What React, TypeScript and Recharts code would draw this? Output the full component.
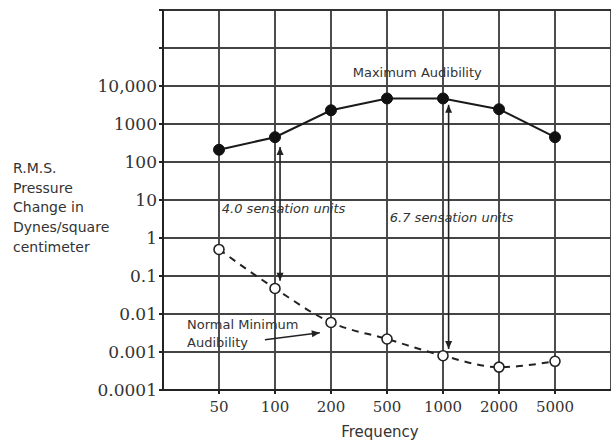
import {
  CartesianGrid,
  Label,
  Line,
  LineChart,
  ReferenceArea,
  ReferenceDot,
  ReferenceLine,
  XAxis,
  YAxis,
} from "recharts";

const frequencies = ["50", "100", "200", "500", "1000", "2000", "5000"];
const maxAudibility = [210, 450, 2300, 4700, 4700, 2450, 450];
const minAudibility = [0.5, 0.047, 0.006, 0.0022, 0.0008, 0.0004, 0.00057];
const yTicks = [0.0001, 0.001, 0.01, 0.1, 1, 10, 100, 1000, 10000, 100000, 1000000];
const yTickLabels = ["0.0001", "0.001", "0.01", "0.1", "1", "10", "100", "1000", "10,000", "", ""];
const yTitle = ["R.M.S.", "Pressure", "Change in", "Dynes/square", "centimeter"];

const data = frequencies.map((f, i) => ({
  pos: i + 1,
  freq: f,
  max: maxAudibility[i],
  min: minAudibility[i],
}));

const SANS = "'DejaVu Sans', sans-serif";
const SERIF = "'DejaVu Serif', serif";
const INK = "#333";

function head(x: number, y: number, dx: number, dy: number) {
  // triangle pointing along (dx, dy), tip at (x, y)
  const len = Math.hypot(dx, dy) || 1;
  const ux = dx / len;
  const uy = dy / len;
  const bx = x - ux * 8;
  const by = y - uy * 8;
  const px = -uy * 3.5;
  const py = ux * 3.5;
  return `${x},${y} ${bx + px},${by + py} ${bx - px},${by - py}`;
}

const DoubleArrow = (p: any) => {
  const { x1, y1, x2, y2 } = p;
  return (
    <g>
      <line x1={x1} y1={y1} x2={x2} y2={y2} stroke="#222" strokeWidth={1.6} />
      <polygon points={head(x1, y1, x1 - x2, y1 - y2)} fill="#222" />
      <polygon points={head(x2, y2, x2 - x1, y2 - y1)} fill="#222" />
    </g>
  );
};

const SingleArrow = (p: any) => {
  const { x1, y1, x2, y2 } = p;
  return (
    <g>
      <line x1={x1} y1={y1} x2={x2} y2={y2} stroke="#222" strokeWidth={1.6} />
      <polygon points={head(x2, y2, x2 - x1, y2 - y1)} fill="#222" />
    </g>
  );
};

// top edge of the plotting frame
const FrameTop = (p: any) => (
  <line x1={p.x} y1={p.y} x2={p.x + p.width} y2={p.y} stroke="#333" strokeWidth={2.2} />
);

const note =
  (lines: string[], opts: { anchor?: "start" | "middle"; italic?: boolean; lh?: number }) =>
  (p: any) => (
    <text
      x={p.cx}
      y={p.cy}
      textAnchor={opts.anchor ?? "start"}
      fontFamily={SANS}
      fontSize={13}
      fontStyle={opts.italic ? "italic" : "normal"}
      fill={INK}
    >
      {lines.map((l, i) => (
        <tspan key={l} x={p.cx} dy={i === 0 ? "0.36em" : opts.lh ?? 18}>
          {l}
        </tspan>
      ))}
    </text>
  );

const YTitle = (p: any) => {
  const y0 = p.viewBox.y + 163;
  return (
    <text x={13} y={y0} fontFamily={SANS} fontSize={14} fill={INK}>
      {yTitle.map((l, i) => (
        <tspan key={l} x={13} y={y0 + i * 19.7}>
          {l}
        </tspan>
      ))}
    </text>
  );
};

export default function App() {
  return (
    <div style={{ width: 611, height: 442, background: "#fff" }}>
      <style>{"body{margin:0}"}</style>
      <LineChart width={611} height={442} data={data} margin={{ top: 10, right: 0, bottom: 0, left: 0 }}>
        <CartesianGrid stroke="#444" strokeWidth={1.9} />
        <XAxis
          dataKey="pos"
          type="number"
          domain={[0, 8]}
          ticks={[1, 2, 3, 4, 5, 6, 7]}
          tickFormatter={(v) => frequencies[v - 1] ?? ""}
          height={52}
          tickSize={4}
          tickMargin={7}
          stroke="#222"
          strokeWidth={2}
          tick={{ fontFamily: SERIF, fontSize: 15, fill: INK }}
          allowDataOverflow
        >
          <Label value="Frequency" position="insideBottom" offset={5} dx={-7} fontFamily={SANS} fontSize={15} fill={INK} />
        </XAxis>
        <YAxis
          type="number"
          scale="log"
          domain={[0.0001, 1000000]}
          ticks={yTicks}
          tickFormatter={(v) => yTickLabels[yTicks.indexOf(v)] ?? ""}
          width={163}
          tickSize={4}
          tickMargin={2}
          stroke="#222"
          strokeWidth={2}
          tick={{ fontFamily: SERIF, fontSize: 17, fill: INK }}
          allowDataOverflow
          interval={0}
        >
          <Label content={<YTitle />} />
        </YAxis>

        <ReferenceArea x1={0} x2={8} y1={0.0001} y2={1000000} ifOverflow="visible" shape={FrameTop} />

        <ReferenceLine segment={[{ x: 2.09, y: 250 }, { x: 2.09, y: 0.075 }]} shape={DoubleArrow} />
        <ReferenceLine segment={[{ x: 5.1, y: 3200 }, { x: 5.1, y: 0.0012 }]} shape={DoubleArrow} />
        <ReferenceLine segment={[{ x: 1.82, y: 0.0021 }, { x: 2.8, y: 0.0032 }]} shape={SingleArrow} />

        <ReferenceDot x={4.54} y={23400} shape={note(["Maximum Audibility"], { anchor: "middle" })} />
        <ReferenceDot x={1.05} y={6.2} shape={note(["4.0 sensation units"], { italic: true })} />
        <ReferenceDot x={4.05} y={3.6} shape={note(["6.7 sensation units"], { italic: true })} />
        <ReferenceDot x={0.43} y={0.0055} shape={note(["Normal Minimum", "Audibility"], {})} />

        <Line
          dataKey="max"
          type="linear"
          stroke="#1a1a1a"
          strokeWidth={2}
          dot={{ r: 5.5, fill: "#111", stroke: "#111", strokeWidth: 1 }}
          isAnimationActive={false}
        />
        <Line
          dataKey="min"
          type="monotone"
          stroke="#222"
          strokeWidth={2}
          strokeDasharray="7 6"
          dot={{ r: 5, fill: "#fff", stroke: "#222", strokeWidth: 1.6, strokeDasharray: "0" }}
          isAnimationActive={false}
        />
      </LineChart>
    </div>
  );
}
